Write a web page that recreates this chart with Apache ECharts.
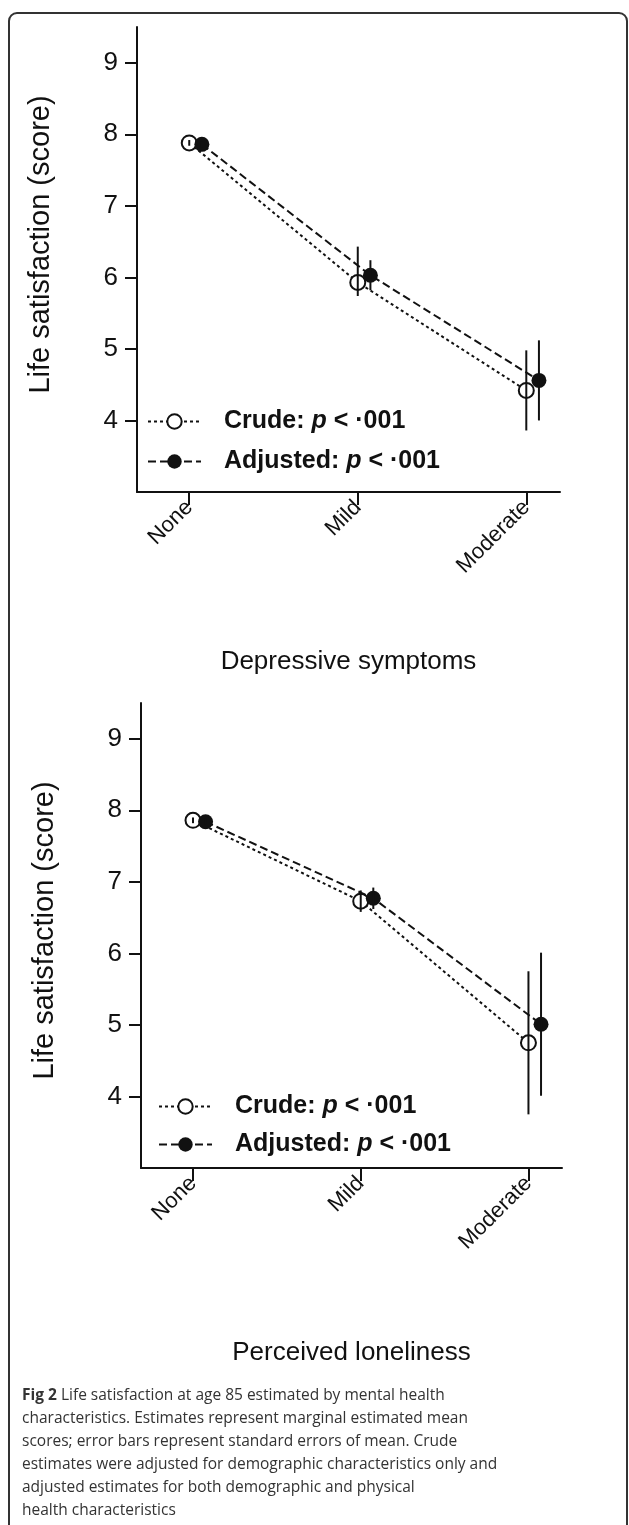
<!DOCTYPE html>
<html>
<head>
<meta charset="utf-8">
<script src="https://cdn.jsdelivr.net/npm/echarts@6/dist/echarts.min.js"></script>
<style>
  body { margin: 0; background: #fff; }
  #frame {
    position: absolute; left: 8px; top: 12px; width: 620px; height: 1540px;
    border: 2px solid #333; border-radius: 9px; box-sizing: border-box;
  }
  #chart { position: absolute; left: 0; top: 0; width: 629px; height: 1525px; }
  #caption {
    position: absolute; left: 22px; top: 1383px; width: 600px; white-space: nowrap;
    font-family: 'Open Sans', sans-serif; font-size: 15.5px; line-height: 23px;
    color: #333;
  }
</style>
</head>
<body>
<div id="frame"></div>
<div id="chart"></div>
<div id="caption"><b>Fig 2</b> Life satisfaction at age 85 estimated by mental health<br>characteristics. Estimates represent marginal estimated mean<br>scores; error bars represent standard errors of mean. Crude<br>estimates were adjusted for demographic characteristics only and<br>adjusted estimates for both demographic and physical<br>health characteristics</div>
<script>
// categories + tick labels
var categories = ['None', 'Mild', 'Moderate'];
var yTicks = [4, 5, 6, 7, 8, 9];

// Depressive symptoms
var depCrude = [7.88, 5.93, 4.42];
var depCrudeLow = [7.84, 5.74, 3.86];
var depCrudeHigh = [7.92, 6.43, 4.98];
var depAdj = [7.86, 6.03, 4.56];
var depAdjLow = [7.82, 5.82, 4.00];
var depAdjHigh = [7.90, 6.24, 5.12];

// Perceived loneliness
var lonCrude = [7.86, 6.73, 4.75];
var lonCrudeLow = [7.82, 6.58, 3.75];
var lonCrudeHigh = [7.90, 6.88, 5.75];
var lonAdj = [7.84, 6.77, 5.01];
var lonAdjLow = [7.80, 6.62, 4.01];
var lonAdjHigh = [7.88, 6.92, 6.01];

var dodge = 0.075;   // adjusted points sit a bit to the right
var font = "'Liberation Sans', Arial, sans-serif";

function pts(vals, off) {
  return vals.map(function (v, i) { return [i + off, v]; });
}
function bars(lo, hi, off) {
  return lo.map(function (v, i) { return [i + off, v, hi[i]]; });
}
function errRender(params, api) {
  var a = api.coord([api.value(0), api.value(1)]);
  var b = api.coord([api.value(0), api.value(2)]);
  return { type: 'line', shape: { x1: a[0], y1: a[1], x2: b[0], y2: b[1] },
           style: { stroke: '#111', lineWidth: 2 } };
}

function xAx(idx, title, gap) {
  return {
    gridIndex: idx, type: 'value', min: -0.31, max: 2.2,
    axisLine: { onZero: false, lineStyle: { color: '#111', width: 2 } },
    axisTick: { customValues: [0, 1, 2], length: 13, lineStyle: { width: 2, color: '#111' } },
    axisLabel: { customValues: [0, 1, 2], rotate: 45, margin: 12, fontSize: 22, color: '#111', fontFamily: font,
      formatter: function (v) { return categories[Math.round(v)]; } },
    splitLine: { show: false },
    name: title, nameLocation: 'middle', nameGap: gap, nameMoveOverlap: false,
    nameTextStyle: { fontSize: 26, color: '#111', fontFamily: font }
  };
}
function yAx(idx, shift) {
  return {
    gridIndex: idx, type: 'value', min: 3, max: 9.5,
    axisLine: { show: true, onZero: false, lineStyle: { color: '#111', width: 2 } },
    axisTick: { show: true, customValues: yTicks, length: 12, lineStyle: { width: 2, color: '#111' } },
    axisLabel: { customValues: yTicks, fontSize: 26, color: '#111', fontFamily: font, margin: 19 },
    splitLine: { show: false },
    name: 'Life satisfaction (score)', nameLocation: 'middle', nameGap: 82, nameMoveOverlap: false,
    nameTextStyle: { fontSize: 29, color: '#111', fontFamily: font, padding: [0, 0, 0, shift] }
  };
}
function lineSeries(name, idx, data, filled) {
  return {
    name: name, type: 'line', xAxisIndex: idx, yAxisIndex: idx, data: data,
    symbol: 'circle', symbolSize: 15, z: filled ? 4 : 2,
    itemStyle: filled ? { color: '#111' } : { color: '#fff', borderColor: '#111', borderWidth: 2 },
    lineStyle: { color: '#111', width: 2, type: filled ? [8, 4] : [3, 3] },
    emphasis: { disabled: true }
  };
}
function errSeries(name, idx, data, z) {
  return { name: name, type: 'custom', xAxisIndex: idx, yAxisIndex: idx, data: data,
           renderItem: errRender, z: z, silent: true };
}
function legend(left, top, gap) {
  return {
    data: ['Crude', 'Adjusted'], orient: 'vertical', left: left, top: top,
    itemWidth: 53, itemHeight: 18, itemGap: gap,
    textStyle: {
      fontSize: 25, fontWeight: 'bold', color: '#111', fontFamily: font, padding: [0, 0, 0, 18],
      rich: { i: { fontSize: 25, fontWeight: 'bold', fontStyle: 'italic', color: '#111', fontFamily: font } }
    },
    formatter: function (n) { return n + ': {i|p} < \u00b7001'; }
  };
}

var chart = echarts.init(document.getElementById('chart'));
chart.setOption({
  animation: false,
  grid: [
    { left: 137, top: 27, width: 423, height: 465 },
    { left: 141, top: 703, width: 421, height: 465 }
  ],
  xAxis: [xAx(0, 'Depressive symptoms', 157), xAx(1, 'Perceived loneliness', 172)],
  yAxis: [yAx(0, 30), yAx(1, 10)],
  legend: [legend(142, 404, 15), legend(153, 1089, 13)],
  series: [
    lineSeries('Crude', 0, pts(depCrude, 0), false),
    errSeries('crudeErr', 0, bars(depCrudeLow, depCrudeHigh, 0), 3),
    lineSeries('Adjusted', 0, pts(depAdj, dodge), true),
    errSeries('adjErr', 0, bars(depAdjLow, depAdjHigh, dodge), 5),
    lineSeries('Crude', 1, pts(lonCrude, 0), false),
    errSeries('crudeErr', 1, bars(lonCrudeLow, lonCrudeHigh, 0), 3),
    lineSeries('Adjusted', 1, pts(lonAdj, dodge), true),
    errSeries('adjErr', 1, bars(lonAdjLow, lonAdjHigh, dodge), 5)
  ]
});
</script>
</body>
</html>
